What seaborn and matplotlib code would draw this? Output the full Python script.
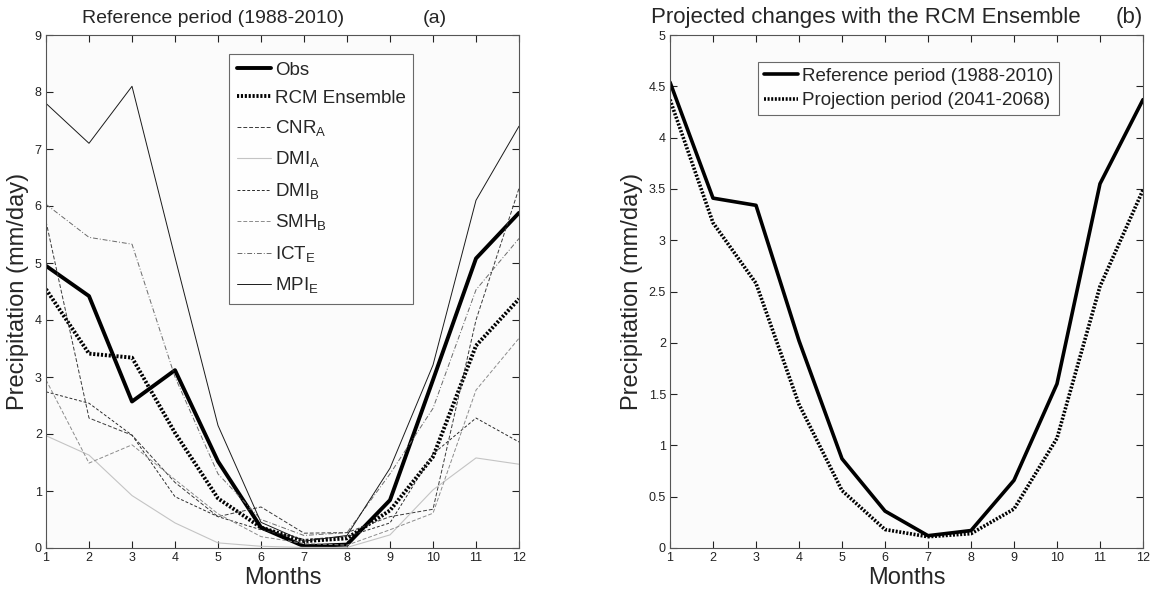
import numpy as np
import pandas as pd
import matplotlib
matplotlib.use("Agg")
import matplotlib.pyplot as plt
from matplotlib.ticker import FormatStrFormatter, MultipleLocator
import seaborn as sns

# ---------------- data ----------------
months = list(range(1, 13))

obs        = [4.95, 4.42, 2.57, 3.12, 1.52, 0.36, 0.03, 0.06, 0.84, 2.95, 5.08, 5.88]
rcm_ref    = [4.54, 3.41, 3.34, 2.02, 0.87, 0.36, 0.12, 0.17, 0.66, 1.60, 3.55, 4.37]
cnr_a      = [5.73, 2.28, 1.98, 1.15, 0.55, 0.72, 0.26, 0.27, 0.55, 0.68, 4.00, 6.31]
dmi_a      = [1.97, 1.63, 0.92, 0.44, 0.09, 0.03, 0.01, 0.01, 0.23, 1.02, 1.58, 1.47]
dmi_b      = [2.74, 2.54, 1.98, 0.90, 0.55, 0.32, 0.15, 0.20, 0.44, 1.65, 2.28, 1.86]
smh_b      = [2.95, 1.49, 1.81, 1.20, 0.60, 0.20, 0.08, 0.05, 0.32, 0.61, 2.77, 3.68]
ict_e      = [6.03, 5.45, 5.33, 3.00, 1.30, 0.50, 0.22, 0.27, 1.30, 2.45, 4.53, 5.43]
mpi_e      = [7.80, 7.10, 8.10, 5.10, 2.15, 0.45, 0.12, 0.22, 1.40, 3.21, 6.10, 7.40]

rcm_proj   = [4.37, 3.17, 2.58, 1.40, 0.56, 0.18, 0.11, 0.14, 0.38, 1.07, 2.55, 3.49]

left_labels = ["Obs", "RCM Ensemble", r"CNR$_\mathrm{A}$", r"DMI$_\mathrm{A}$",
               r"DMI$_\mathrm{B}$", r"SMH$_\mathrm{B}$", r"ICT$_\mathrm{E}$", r"MPI$_\mathrm{E}$"]
right_labels = ["Reference period (1988-2010)", "Projection period (2041-2068)"]

# ---------------- style ----------------
sns.set_style("ticks")
plt.rcParams['font.family'] = ['Liberation Sans', 'DejaVu Sans']
plt.rcParams['mathtext.fontset'] = 'custom'
plt.rcParams['mathtext.rm'] = 'Liberation Sans'

fig = plt.figure(figsize=(11.53, 5.92), dpi=100)
ax1 = fig.add_axes([46/1153, 44/592, 473/1153, 513/592])
ax2 = fig.add_axes([670/1153, 44/592, 473/1153, 513/592])

def draw(ax, y, label, color, lw, dashes=None):
    df = pd.DataFrame({"Month": months, "Value": y})
    sns.lineplot(data=df, x="Month", y="Value", ax=ax, color=color,
                 linewidth=lw, label=label, legend=False)
    ln = ax.lines[-1]
    if dashes is not None:
        ln.set_dashes(dashes)
    return ln

left_series = [obs, rcm_ref, cnr_a, dmi_a, dmi_b, smh_b, ict_e, mpi_e]
left_styles = [
    ("black", 2.8, None),
    ("black", 2.8, (0.55, 0.45)),
    ("#3a3a3a", 0.7, (4, 2)),
    ("#c4c4c4", 0.8, None),
    ("#2a2a2a", 0.7, (3, 2)),
    ("#8c8c8c", 0.7, (4, 2)),
    ("#6a6a6a", 0.7, (5, 2, 1, 2)),
    ("#1a1a1a", 0.7, None),
]
handles = []
for y, lab, (c, lw, d) in zip(left_series, left_labels, left_styles):
    handles.append(draw(ax1, y, lab, c, lw, d))

h2 = [draw(ax2, rcm_ref, right_labels[0], "black", 2.6, None),
      draw(ax2, rcm_proj, right_labels[1], "black", 2.6, (0.55, 0.45))]

for ax, ymax, step in [(ax1, 9, 1), (ax2, 5, 0.5)]:
    ax.set_facecolor("#fbfbfb")
    ax.set_xlim(1, 12)
    ax.set_ylim(0, ymax)
    ax.xaxis.set_major_locator(MultipleLocator(1))
    ax.yaxis.set_major_locator(MultipleLocator(step))
    ax.yaxis.set_major_formatter(FormatStrFormatter('%g'))
    ax.tick_params(direction='in', top=True, right=True, length=5, width=0.8,
                   labelsize=9, colors='#222222', pad=3)
    for s in ax.spines.values():
        s.set_visible(True)
        s.set_color('#555555')
        s.set_linewidth(0.8)
    ax.set_xlabel("Months", fontsize=17, labelpad=2)
    ax.set_ylabel("Precipitation (mm/day)", fontsize=17, labelpad=4)

ax1.text((213 - 46) / 473, 1.015, "Reference period (1988-2010)", transform=ax1.transAxes,
         ha='center', va='bottom', fontsize=14)
ax1.text((435 - 46) / 473, 1.015, "(a)", transform=ax1.transAxes, ha='center', va='bottom',
         fontsize=14)
ax2.text((866 - 670) / 473, 1.013, "Projected changes with the RCM Ensemble",
         transform=ax2.transAxes, ha='center', va='bottom', fontsize=16)
ax2.text((1129 - 670) / 473, 1.013, "(b)",
         transform=ax2.transAxes, ha='center', va='bottom', fontsize=16)

leg1 = ax1.legend(handles=handles, labels=left_labels, loc='upper left',
                  bbox_to_anchor=(183/473, 1 - 19/513), fontsize=13.5,
                  frameon=True, fancybox=False, edgecolor='#444444',
                  handlelength=1.85, handletextpad=0.2, labelspacing=0.6,
                  borderpad=0.4, borderaxespad=0)
leg1.get_frame().set_linewidth(0.8)
leg1.get_frame().set_facecolor('white')

leg2 = ax2.legend(handles=h2, labels=right_labels, loc='upper left',
                  bbox_to_anchor=(88/473, 1 - 27/513), fontsize=13.5,
                  frameon=True, fancybox=False, edgecolor='#444444',
                  handlelength=1.85, handletextpad=0.2, labelspacing=0.4,
                  borderpad=0.3, borderaxespad=0)
leg2.get_frame().set_linewidth(0.8)
leg2.get_frame().set_facecolor('white')

fig.savefig("out.png", dpi=100)
